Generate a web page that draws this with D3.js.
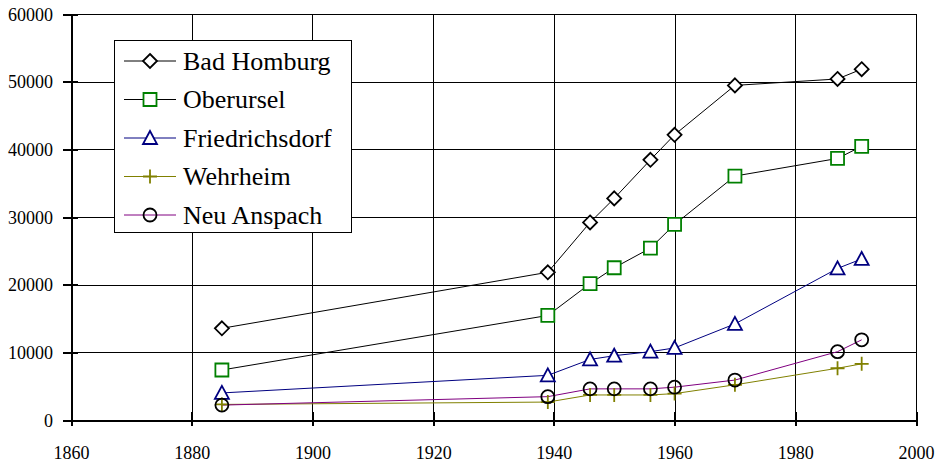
<!DOCTYPE html>
<html>
<head>
<meta charset="utf-8">
<script src="https://cdn.jsdelivr.net/npm/d3@7"></script>
<style>
    body { margin: 0; background: #fff; }
    svg { display: block; }
    .grid line { stroke: #000; stroke-width: 1; shape-rendering: crispEdges; }
    .grid .domain { display: none; }
    .axis .domain { stroke: #000; stroke-width: 2; shape-rendering: crispEdges; }
    .axis line { stroke: #000; stroke-width: 2; shape-rendering: crispEdges; }
</style>
</head>
<body>
<div id="chart"></div>
<script>
// Einwohnerzahlen Hochtaunus
const years = [1885, 1939, 1946, 1950, 1956, 1960, 1970, 1987, 1991];
const badHomburg = [13550, 21830, 29200, 32750, 38450, 42150, 49450, 50400, 51850];
const oberursel = [7390, 15450, 20150, 22500, 25400, 28900, 36050, 38650, 40450];
const friedrichsdorf = [4000, 6600, 8950, 9500, 10100, 10650, 14200, 22400, 23800];
const wehrheim = [2300, 2650, 3700, 3700, 3700, 3900, 5200, 7650, 8300];
const neuAnspach = [2200, 3450, 4600, 4600, 4600, 4850, 5900, 10100, 11850];

const seriesNames = ["Bad Homburg", "Oberursel", "Friedrichsdorf", "Wehrheim", "Neu Anspach"];
const seriesValues = [badHomburg, oberursel, friedrichsdorf, wehrheim, neuAnspach];
const xTicks = [1860, 1880, 1900, 1920, 1940, 1960, 1980, 2000];
const yTicks = [0, 10000, 20000, 30000, 40000, 50000, 60000];

const styles = [
    { line: "#000", marker: "#000", shape: "diamond", fill: "#fff" },
    { line: "#000", marker: "#008000", shape: "square", fill: "#fff" },
    { line: "#000080", marker: "#000080", shape: "triangle", fill: "#fff" },
    { line: "#808000", marker: "#808000", shape: "plus", fill: "none" },
    { line: "#800080", marker: "#000", shape: "circle", fill: "none" }
];

const FONT = "'Liberation Serif', 'Times New Roman', serif";
const W = 947, H = 463;
const plot = { left: 71, right: 916, top: 14, bottom: 420 };

const x = d3.scaleLinear().domain([1860, 2000]).range([plot.left, plot.right]);
const y = d3.scaleLinear().domain([0, 60000]).range([plot.bottom, plot.top]);

const svg = d3.select("#chart").append("svg")
    .attr("width", W)
    .attr("height", H);

// gitter
svg.append("g")
    .attr("class", "grid")
    .attr("transform", "translate(0," + plot.bottom + ")")
    .call(d3.axisBottom(x).tickValues(xTicks).tickSize(-(plot.bottom - plot.top)).tickFormat(""));

svg.append("g")
    .attr("class", "grid")
    .attr("transform", "translate(" + plot.left + ",0)")
    .call(d3.axisLeft(y).tickValues(yTicks).tickSize(-(plot.right - plot.left)).tickFormat(""));

// achsen
const xAxis = svg.append("g")
    .attr("class", "axis")
    .attr("transform", "translate(0," + plot.bottom + ")")
    .call(d3.axisBottom(x).tickValues(xTicks).tickSizeOuter(0).tickSize(6).tickFormat(d3.format("d")));
xAxis.selectAll(".tick line").attr("y1", -8).attr("y2", 6);
xAxis.selectAll(".tick text")
    .attr("y", 39).attr("dy", 0)
    .style("font-family", FONT).style("font-size", "18px").style("fill", "#000");

const yAxis = svg.append("g")
    .attr("class", "axis")
    .attr("transform", "translate(" + plot.left + ",0)")
    .call(d3.axisLeft(y).tickValues(yTicks).tickSizeOuter(0).tickSize(8).tickFormat(d3.format("d")));
yAxis.selectAll(".tick line").attr("x1", -8).attr("x2", 7);
yAxis.selectAll(".tick text")
    .attr("x", -18).attr("dy", "0.34em")
    .style("font-family", FONT).style("font-size", "18px").style("fill", "#000");

function markerPath(shape) {
    const p = d3.path();
    if (shape === "diamond") {
        p.moveTo(0, -7); p.lineTo(7, 0); p.lineTo(0, 7); p.lineTo(-7, 0); p.closePath();
    } else if (shape === "square") {
        p.rect(-6.5, -6.5, 13, 13);
    } else if (shape === "triangle") {
        p.moveTo(0, -7); p.lineTo(7, 6); p.lineTo(-7, 6); p.closePath();
    } else if (shape === "plus") {
        p.moveTo(-7, 0); p.lineTo(7, 0); p.moveTo(0, -7); p.lineTo(0, 7);
    } else {
        p.arc(0, 0, 6.5, 0, 2 * Math.PI);
    }
    return p.toString();
}

const line = d3.line()
    .x(d => x(d[0]))
    .y(d => y(d[1]));

const series = seriesNames.map((name, i) => ({
    name: name,
    style: styles[i],
    points: years.map((yr, j) => [yr, seriesValues[i][j]])
}));

// linien zuerst, danach die marker
svg.append("g").selectAll("path")
    .data(series)
    .enter().append("path")
    .attr("fill", "none")
    .attr("stroke", d => d.style.line)
    .attr("stroke-width", 1)
    .attr("d", d => line(d.points));

series.forEach(s => {
    svg.append("g").selectAll("path")
        .data(s.points)
        .enter().append("path")
        .attr("transform", d => "translate(" + x(d[0]) + "," + y(d[1]) + ")")
        .attr("d", markerPath(s.style.shape))
        .attr("fill", s.style.fill)
        .attr("stroke", s.style.marker)
        .attr("stroke-width", 1.8);
});

// legende
const legend = svg.append("g").attr("class", "legend");
legend.append("rect")
    .attr("x", 114.5).attr("y", 40.5)
    .attr("width", 237).attr("height", 192)
    .attr("fill", "#fff")
    .attr("stroke", "#000")
    .attr("stroke-width", 1);

const rows = legend.selectAll("g.row")
    .data(series)
    .enter().append("g")
    .attr("class", "row")
    .attr("transform", (d, i) => "translate(0," + (61 + i * 38.5) + ")");

rows.append("line")
    .attr("x1", 124).attr("x2", 176)
    .attr("stroke", d => d.style.line)
    .attr("stroke-width", 1);
rows.append("path")
    .attr("transform", "translate(150,0)")
    .attr("d", d => markerPath(d.style.shape))
    .attr("fill", d => d.style.fill === "none" ? "none" : "#fff")
    .attr("stroke", d => d.style.marker)
    .attr("stroke-width", 1.8);
rows.append("text")
    .attr("x", 183)
    .attr("dy", "0.33em")
    .style("font-family", FONT)
    .style("font-size", "26px")
    .style("fill", "#000")
    .text(d => d.name);
</script>
</body>
</html>
